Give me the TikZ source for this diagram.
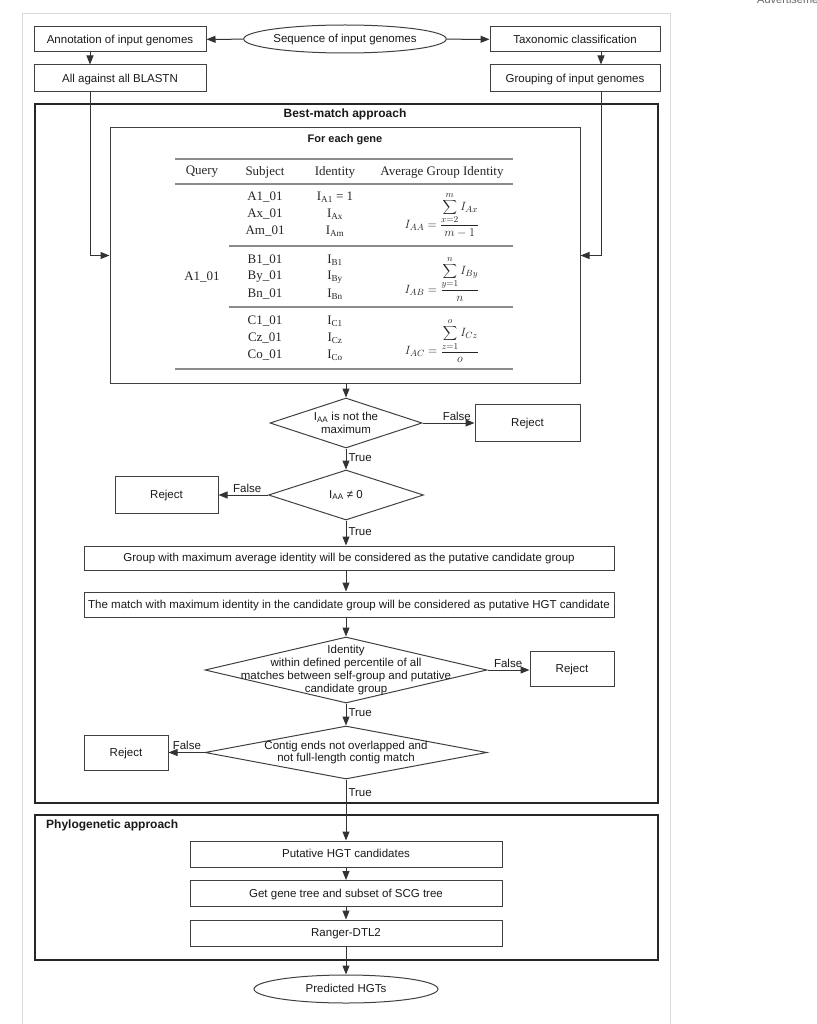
\documentclass[tikz,border=0pt]{standalone}
\usepackage{fontspec}
\setmainfont{Liberation Sans}
\newfontfamily\tms{Liberation Serif}
\usetikzlibrary{shapes.geometric,arrows.meta}
\tikzset{
  base/.style={font=\fontsize{11.5}{12.7}\selectfont, text=black!90},
  box/.style={base, draw=black!75, line width=1pt, rectangle, inner sep=1pt, align=center, text height=8.2pt, text depth=0.3pt},
  oval/.style={base, draw=black!75, line width=1pt, ellipse, inner sep=0pt, text height=8.2pt, text depth=0.3pt},
  dia/.style={draw=black!75, line width=1pt, diamond, inner sep=0pt},
  dtext/.style={base, align=center, inner sep=0pt},
  bigframe/.style={draw=black!85, line width=2.2pt, rectangle, inner sep=0pt},
  arr/.style={draw=black!80, line width=1pt, -{Triangle[length=9pt,width=7pt]}},
  lbl/.style={base, inner sep=2pt},
  ttl/.style={font=\bfseries\fontsize{12}{14}\selectfont, text=black!90, inner sep=0pt},
  tcell/.style={font=\tms\fontsize{13}{16}\selectfont, inner sep=0pt, text=black!85},
  trule/.style={draw=black!45, line width=1.3pt},
}
\begin{document}
\begin{tikzpicture}[x=1pt,y=-1pt]
\useasboundingbox (0,0) rectangle (816,1024);
% page frame
\draw[black!15, line width=0.8pt] (22,1030) -- (22,13) -- (670,13) -- (670,1030);
\node[anchor=base west, font=\fontsize{11}{12}\selectfont, text=black!60, inner sep=0pt] (adv) at (757,4) {Advertisement};

% top row
\node[box, minimum width=172, minimum height=25] (annot) at (120,39.5) {Annotation of input genomes};
\node[oval, minimum width=194, minimum height=28] (seq) at (345,39) {Sequence of input genomes};
\node[box, minimum width=170, minimum height=25] (tax) at (575,39.5) {Taxonomic classification};
\node[box, minimum width=172, minimum height=27] (blast) at (120,78.5) {All against all BLASTN};
\node[box, minimum width=170, minimum height=27] (group) at (575,78.5) {Grouping of input genomes};

% best-match frame
\node[bigframe, minimum width=623, minimum height=699] (bm) at (346.5,453.5) {};
\node[ttl] (bmt) at (345,114) {Best-match approach};

% gene box
\node[box, minimum width=470, minimum height=255] (gene) at (345,255.5) {};
\node[ttl, font=\bfseries\fontsize{11}{13}\selectfont] (genet) at (345,140) {For each gene};

% table rules
\draw[trule] (175,159) -- (513,159);
\draw[trule] (175,184) -- (513,184);
\draw[trule] (229,246) -- (513,246);
\draw[trule] (229,307) -- (513,307);
\draw[trule] (175,369) -- (513,369);
% header
\node[tcell] (hq) at (202,172) {Query};
\node[tcell] (hs) at (265,172) {Subject};
\node[tcell] (hi) at (335,172) {Identity};
\node[tcell] (ha) at (442,172) {Average Group Identity};
% rows
\node[tcell] (q) at (202,277) {A1\_01};
\node[tcell] (s1) at (265,197) {A1\_01};
\node[tcell] (s2) at (265,214) {Ax\_01};
\node[tcell] (s3) at (265,231) {Am\_01};
\node[tcell] (s4) at (265,260) {B1\_01};
\node[tcell] (s5) at (265,277) {By\_01};
\node[tcell] (s6) at (265,294) {Bn\_01};
\node[tcell] (s7) at (265,321) {C1\_01};
\node[tcell] (s8) at (265,338) {Cz\_01};
\node[tcell] (s9) at (265,355) {Co\_01};
\node[tcell] (i1) at (335,197) {I\textsubscript{A1} = 1};
\node[tcell] (i2) at (335,214) {I\textsubscript{Ax}};
\node[tcell] (i3) at (335,231) {I\textsubscript{Am}};
\node[tcell] (i4) at (335,260) {I\textsubscript{B1}};
\node[tcell] (i5) at (335,277) {I\textsubscript{By}};
\node[tcell] (i6) at (335,294) {I\textsubscript{Bn}};
\node[tcell] (i7) at (335,321) {I\textsubscript{C1}};
\node[tcell] (i8) at (335,338) {I\textsubscript{Cz}};
\node[tcell] (i9) at (335,355) {I\textsubscript{Co}};
\node[tcell] (f1) at (442,215) {$\displaystyle I_{AA}=\frac{\displaystyle\sum_{x=2}^{m} I_{Ax}}{m-1}$};
\node[tcell] (f2) at (442,279) {$\displaystyle I_{AB}=\frac{\displaystyle\sum_{y=1}^{n} I_{By}}{n}$};
\node[tcell] (f3) at (442,341) {$\displaystyle I_{AC}=\frac{\displaystyle\sum_{z=1}^{o} I_{Cz}}{o}$};

% decisions
\node[dia, minimum width=152, minimum height=50,
  label={[dtext]center:I\textsubscript{AA} is not the\\maximum}] (d1) at (346,423) {};
\node[box, minimum width=105, minimum height=37] (rej1) at (527.5,423) {Reject};
\node[dia, minimum width=155, minimum height=50,
  label={[dtext]center:I\textsubscript{AA} ≠ 0}] (d2) at (346,495) {};
\node[box, minimum width=103, minimum height=37] (rej2) at (166.5,495) {Reject};
\node[box, minimum width=530, minimum height=24] (g1) at (349,558) {Group with maximum average identity will be considered as the putative candidate group};
\node[box, minimum width=530, minimum height=25] (g2) at (349,604.5) {The match with maximum identity in the candidate group will be considered as putative HGT candidate};
\node[dia, minimum width=282, minimum height=66,
  label={[dtext]center:Identity\\within defined percentile of all\\matches between self-group and putative\\candidate group}] (d3) at (346,670) {};
\node[box, minimum width=84, minimum height=35] (rej3) at (572,668.5) {Reject};
\node[dia, minimum width=282, minimum height=53,
  label={[dtext]center:Contig ends not overlapped and\\not full-length contig match}] (d4) at (346,752.5) {};
\node[box, minimum width=84, minimum height=35] (rej4) at (126,752.5) {Reject};

% phylogenetic frame
\node[bigframe, minimum width=623, minimum height=145] (ph) at (346.5,887.5) {};
\node[ttl, anchor=west] (pht) at (46,825) {Phylogenetic approach};
\node[box, minimum width=312, minimum height=26] (p1) at (346,854) {Putative HGT candidates};
\node[box, minimum width=312, minimum height=26] (p2) at (346,893.5) {Get gene tree and subset of SCG tree};
\node[box, minimum width=312, minimum height=26] (p3) at (346,933) {Ranger-DTL2};
\node[oval, minimum width=184, minimum height=28] (pred) at (346,989) {Predicted HGTs};

% connectors
\draw[arr] (seq) -- (annot);
\draw[arr] (seq) -- (tax);
\draw[arr] ([xshift=-30pt]annot.south) -- ([xshift=-30pt]blast.north);
\draw[arr] ([xshift=26pt]tax.south) -- ([xshift=26pt]group.north);
\draw[arr] ([xshift=-30pt]blast.south) |- (gene.west);
\draw[arr] ([xshift=26pt]group.south) |- (gene.east);
\draw[arr] (gene.south -| d1.north) -- (d1.north);
\draw[arr] (d1.east) -- node[lbl, above, pos=0.66] {False} (rej1.west |- d1.east);
\draw[arr] (d1.south) -- node[lbl, right, pos=0.45] {True} (d2.north);
\draw[arr] (d2.west) -- node[lbl, above, pos=0.42] {False} (rej2.east |- d2.west);
\draw[arr] (d2.south) -- node[lbl, right, pos=0.46] {True} (g1.north -| d2.south);
\draw[arr] (g1.south -| d2.south) -- (g2.north -| d2.south);
\draw[arr] (g2.south -| d3.north) -- (d3.north);
\draw[arr] (d3.east) -- node[lbl, above, pos=0.49] {False} (rej3.west |- d3.east);
\draw[arr] (d3.south) -- node[lbl, right, pos=0.43] {True} (d4.north);
\draw[arr] (d4.west) -- node[lbl, above, pos=0.49] {False} (rej4.east |- d4.west);
\draw[arr] (d4.south) -- node[lbl, right, pos=0.21] {True} (p1.north);
\draw[arr] (p1) -- (p2);
\draw[arr] (p2) -- (p3);
\draw[arr] (p3) -- (pred);
\end{tikzpicture}
\end{document}
